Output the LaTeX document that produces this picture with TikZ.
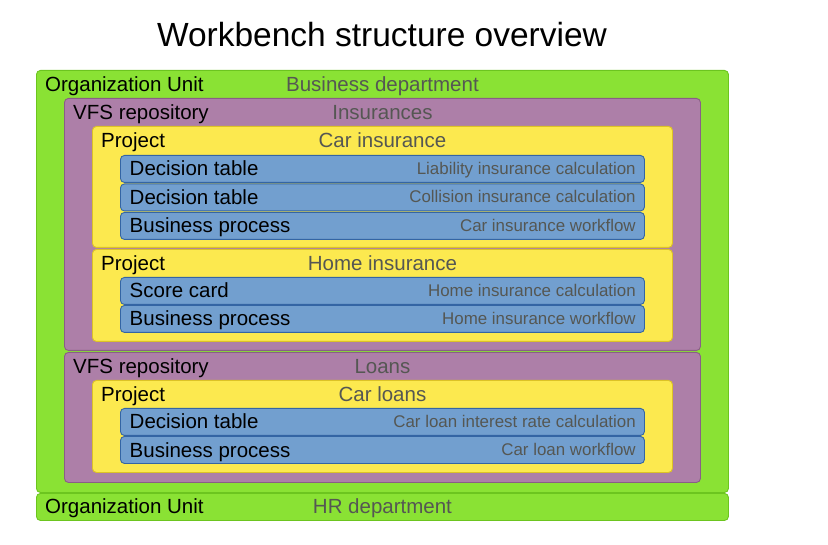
\documentclass[tikz,border=0pt]{standalone}
\usepackage{fontspec}
\setmainfont{Liberation Sans}
\usetikzlibrary{positioning}
\definecolor{unitfill}{HTML}{8AE234}
\definecolor{unitline}{HTML}{6CC51F}
\definecolor{repofill}{HTML}{AD7FA8}
\definecolor{repoline}{HTML}{8A5E86}
\definecolor{projfill}{HTML}{FCE94F}
\definecolor{projline}{HTML}{DCC226}
\definecolor{itemfill}{HTML}{729FCF}
\definecolor{itemline}{HTML}{3465A4}
\definecolor{txtgray}{HTML}{555753}

\begin{document}
\begin{tikzpicture}[
  x=1pt, y=-1pt,
  box/.style={draw, rounded corners=4pt, anchor=north west, inner sep=0pt, line width=0.9pt},
  unit/.style={box, fill=unitfill, draw=unitline, minimum width=692pt},
  repo/.style={box, fill=repofill, draw=repoline, minimum width=636pt},
  proj/.style={box, fill=projfill, draw=projline, minimum width=580pt},
  item/.style={box, fill=itemfill, draw=itemline, minimum width=524pt, minimum height=27pt},
  lab/.style={anchor=base west, inner sep=0pt, font=\fontsize{20.5}{24}\selectfont},
  tag/.style={anchor=base, inner sep=0pt, text=txtgray, font=\fontsize{20.5}{24}\selectfont},
  desc/.style={anchor=base east, inner sep=0pt, text=txtgray, font=\fontsize{16.9}{20}\selectfont}
]
\useasboundingbox (0,0) rectangle (828,545);
\node[anchor=base, inner sep=0pt, font=\fontsize{33.5}{40}\selectfont] (title) at (382,47) {Workbench structure overview};

% business department
\node[unit, minimum height=422pt] (ou1) at (36,70) {};
\node[lab] (ou1l) at ([xshift=9pt,yshift=-21.5pt]ou1.north west) {Organization Unit};
\node[tag] (ou1n) at ([yshift=-21.5pt]ou1.north) {Business department};

\node[repo, minimum height=252pt] (repo1) at (64,98) {};
\node[lab] (repo1l) at ([xshift=9pt,yshift=-21.5pt]repo1.north west) {VFS repository};
\node[tag] (repo1n) at ([yshift=-21.5pt]repo1.north) {Insurances};

\node[proj, minimum height=121pt] (prj1) at (92,126) {};
\node[lab] (prj1l) at ([xshift=9pt,yshift=-21.5pt]prj1.north west) {Project};
\node[tag] (prj1n) at ([yshift=-21.5pt]prj1.north) {Car insurance};

\node[item] (dt1) at (120,155) {};
\node[lab] (dt1l) at ([xshift=9.5pt,yshift=-21pt]dt1.north west) {Decision table};
\node[desc] (dt1d) at ([xshift=-9pt,yshift=-19.5pt]dt1.north east) {Liability insurance calculation};
\node[item] (dt2) at (120,183.5) {};
\node[lab] (dt2l) at ([xshift=9.5pt,yshift=-21pt]dt2.north west) {Decision table};
\node[desc] (dt2d) at ([xshift=-9pt,yshift=-19.5pt]dt2.north east) {Collision insurance calculation};
\node[item] (bp1) at (120,212) {};
\node[lab] (bp1l) at ([xshift=9.5pt,yshift=-21pt]bp1.north west) {Business process};
\node[desc] (bp1d) at ([xshift=-9pt,yshift=-19.5pt]bp1.north east) {Car insurance workflow};

\node[proj, minimum height=92pt] (prj2) at (92,249) {};
\node[lab] (prj2l) at ([xshift=9pt,yshift=-21.5pt]prj2.north west) {Project};
\node[tag] (prj2n) at ([yshift=-21.5pt]prj2.north) {Home insurance};

\node[item] (sc1) at (120,277) {};
\node[lab] (sc1l) at ([xshift=9.5pt,yshift=-21pt]sc1.north west) {Score card};
\node[desc] (sc1d) at ([xshift=-9pt,yshift=-19.5pt]sc1.north east) {Home insurance calculation};
\node[item] (bp2) at (120,305) {};
\node[lab] (bp2l) at ([xshift=9.5pt,yshift=-21pt]bp2.north west) {Business process};
\node[desc] (bp2d) at ([xshift=-9pt,yshift=-19.5pt]bp2.north east) {Home insurance workflow};

\node[repo, minimum height=130pt] (repo2) at (64,352) {};
\node[lab] (repo2l) at ([xshift=9pt,yshift=-21.5pt]repo2.north west) {VFS repository};
\node[tag] (repo2n) at ([yshift=-21.5pt]repo2.north) {Loans};

\node[proj, minimum height=92pt] (prj3) at (92,380) {};
\node[lab] (prj3l) at ([xshift=9pt,yshift=-21.5pt]prj3.north west) {Project};
\node[tag] (prj3n) at ([yshift=-21.5pt]prj3.north) {Car loans};

\node[item] (dt3) at (120,408) {};
\node[lab] (dt3l) at ([xshift=9.5pt,yshift=-21pt]dt3.north west) {Decision table};
\node[desc] (dt3d) at ([xshift=-9pt,yshift=-19.5pt]dt3.north east) {Car loan interest rate calculation};
\node[item] (bp3) at (120,436) {};
\node[lab] (bp3l) at ([xshift=9.5pt,yshift=-21pt]bp3.north west) {Business process};
\node[desc] (bp3d) at ([xshift=-9pt,yshift=-19.5pt]bp3.north east) {Car loan workflow};

% HR department
\node[unit, minimum height=27pt] (ou2) at (36,493) {};
\node[lab] (ou2l) at ([xshift=9pt,yshift=-20pt]ou2.north west) {Organization Unit};
\node[tag] (ou2n) at ([yshift=-20pt]ou2.north) {HR department};
\end{tikzpicture}
\end{document}
